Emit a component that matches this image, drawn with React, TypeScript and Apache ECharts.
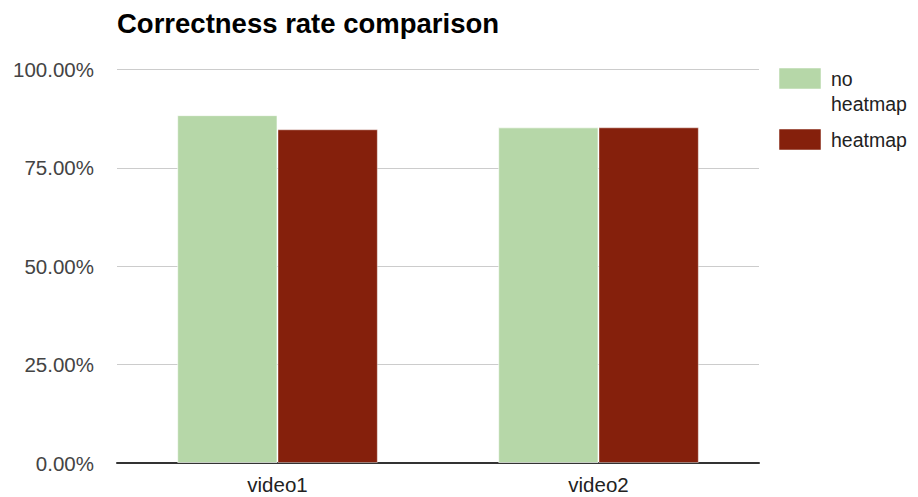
import React, { useEffect, useRef } from "react";
import * as echarts from "echarts";

const categories = ["video1", "video2"];
const seriesNames = ["no heatmap", "heatmap"];
const noHeatmap = [88.4, 85.3];
const heatmap = [84.8, 85.3];
const seriesColors = ["#b6d7a8", "#85200c"];
const yTicks = [0, 25, 50, 75, 100];

const FONT = "'Liberation Sans', Arial, sans-serif";

export default function App() {
  const ref = useRef<HTMLDivElement>(null);

  useEffect(() => {
    document.body.style.margin = "0";
    const chart = echarts.init(ref.current!, null, { renderer: "svg" });

    // legend drawn by hand so the wrapped label keeps its first line beside the swatch
    const legendLines = [["no", "heatmap"], ["heatmap"]];
    const legendTops = [68, 129];
    const legendGraphics: any[] = [];
    seriesNames.forEach((_, i) => {
      legendGraphics.push({
        type: "rect",
        shape: { x: 779, y: legendTops[i], width: 42, height: 21 },
        style: { fill: seriesColors[i], stroke: "rgba(255,255,255,0.5)", lineWidth: 1 },
      });
      legendLines[i].forEach((line, j) => {
        legendGraphics.push({
          type: "text",
          x: 831,
          y: legendTops[i] + 11 + j * 25,
          style: {
            text: line,
            font: `19.5px ${FONT}`,
            fill: "#222",
            verticalAlign: "middle",
            align: "left",
          },
        });
      });
    });

    chart.setOption({
      animation: false,
      title: {
        text: "Correctness rate comparison",
        left: 117,
        top: 9,
        padding: 0,
        textStyle: { fontFamily: FONT, fontSize: 27.5, fontWeight: "bold", color: "#000" },
      },
      grid: { left: 117, right: 159, top: 69.5, bottom: 34, containLabel: false },
      xAxis: {
        type: "category",
        data: categories,
        axisLine: { lineStyle: { color: "#333", width: 2 } },
        axisTick: { show: false },
        axisLabel: { fontFamily: FONT, fontSize: 20.5, color: "#222", margin: 11 },
      },
      yAxis: {
        type: "value",
        min: yTicks[0],
        max: yTicks[yTicks.length - 1],
        interval: yTicks[1] - yTicks[0],
        axisLine: { show: false },
        axisTick: { show: false },
        splitLine: { lineStyle: { color: "#cccccc", width: 1 } },
        axisLabel: {
          fontFamily: FONT,
          fontSize: 20.5,
          color: "#444",
          margin: 23,
          formatter: (v: number) => v.toFixed(2) + "%",
        },
      },
      series: [
        {
          name: seriesNames[0],
          type: "bar",
          data: noHeatmap,
          barGap: "0%",
          barCategoryGap: "37.5%",
          itemStyle: { color: seriesColors[0], borderColor: "rgba(255,255,255,0.6)", borderWidth: 1 },
        },
        {
          name: seriesNames[1],
          type: "bar",
          data: heatmap,
          barGap: "0%",
          barCategoryGap: "37.5%",
          itemStyle: { color: seriesColors[1], borderColor: "rgba(255,255,255,0.4)", borderWidth: 1 },
        },
      ],
      graphic: legendGraphics,
    });

    return () => chart.dispose();
  }, []);

  return (
    <div
      ref={ref}
      style={{ position: "absolute", left: 0, top: 0, width: 918, height: 497, background: "#fff" }}
    />
  );
}
